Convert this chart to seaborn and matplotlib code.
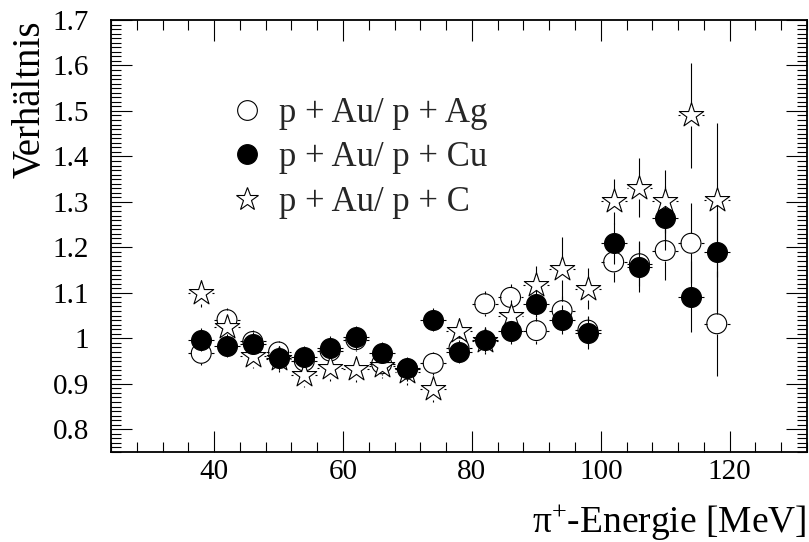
import numpy as np
import pandas as pd
import matplotlib
matplotlib.use("Agg")
import matplotlib.pyplot as plt
import seaborn as sns
from matplotlib.lines import Line2D
from matplotlib.ticker import MultipleLocator

# ---------------- data ----------------
energy = [38, 42, 46, 50, 54, 58, 62, 66, 70, 74, 78,
          82, 86, 90, 94, 98, 102, 106, 110, 114, 118]

ratio_ag = [0.967, 1.041, 0.993, 0.970, 0.950, 0.972, 0.997, 0.944, 0.932, 0.945, 0.979,
            1.076, 1.090, 1.017, 1.061, 1.018, 1.168, 1.164, 1.193, 1.209, 1.032]
err_ag = [0.025, 0.025, 0.025, 0.025, 0.025, 0.025, 0.025, 0.025, 0.025, 0.025, 0.025,
          0.028, 0.030, 0.030, 0.032, 0.032, 0.045, 0.050, 0.065, 0.088, 0.115]

ratio_cu = [0.997, 0.984, 0.988, 0.956, 0.958, 0.979, 1.002, 0.967, 0.935, 1.041, 0.971,
            0.997, 1.015, 1.076, 1.041, 1.011, 1.209, 1.157, 1.265, 1.091, 1.190]
err_cu = [0.025, 0.025, 0.025, 0.025, 0.025, 0.025, 0.025, 0.025, 0.025, 0.025, 0.025,
          0.027, 0.028, 0.030, 0.032, 0.035, 0.045, 0.055, 0.070, 0.078, 0.130]

ratio_c = [1.099, 1.024, 0.962, 0.955, 0.920, 0.935, 0.933, 0.940, 0.925, 0.889, 1.015,
           0.995, 1.050, 1.118, 1.153, 1.109, 1.301, 1.331, 1.301, 1.490, 1.304]
err_c = [0.030, 0.028, 0.028, 0.028, 0.028, 0.028, 0.028, 0.028, 0.028, 0.028, 0.030,
         0.030, 0.035, 0.040, 0.070, 0.045, 0.050, 0.065, 0.070, 0.115, 0.170]

x_halfwidth = 2.0

series_labels = ["p + Au/ p + Ag", "p + Au/ p + Cu", "p + Au/ p + C"]
x_label = r"$\mathrm{\pi}^{+}$-Energie [MeV]"
y_label = "Verhältnis"
x_ticks = [40, 60, 80, 100, 120]
y_ticks = [0.8, 0.9, 1.0, 1.1, 1.2, 1.3, 1.4, 1.5, 1.6, 1.7]
y_ticklabels = ["0.8", "0.9", "1", "1.1", "1.2", "1.3", "1.4", "1.5", "1.6", "1.7"]

# ---------------- style ----------------
sns.set_theme(style="ticks")
plt.rcParams["font.family"] = ["Liberation Serif", "DejaVu Serif"]
plt.rcParams["mathtext.fontset"] = "custom"
plt.rcParams["mathtext.rm"] = "Liberation Serif"
plt.rcParams["mathtext.it"] = "Liberation Serif:italic"

W, H = 809, 542
fig = plt.figure(figsize=(W / 100, H / 100), dpi=100)
fig.patch.set_facecolor("white")
ax_l, ax_r, ax_t, ax_b = 111, 807, 20, 452
ax = fig.add_axes([ax_l / W, (H - ax_b) / H, (ax_r - ax_l) / W, (ax_b - ax_t) / H])
ax.set_facecolor("white")

xlim = (24, 132)
ylim = (0.75, 1.70)
ax.set_xlim(*xlim)
ax.set_ylim(*ylim)

px_per_x = (ax_r - ax_l) / (xlim[1] - xlim[0])
px_per_y = (ax_b - ax_t) / (ylim[1] - ylim[0])

df = pd.DataFrame({"energy": energy, "ag": ratio_ag, "cu": ratio_cu, "c": ratio_c})

def error_bars(y, yerr, r_px, z):
    x = np.asarray(energy, float)
    y = np.asarray(y, float)
    e = np.asarray(yerr, float)
    gy = r_px / px_per_y
    gx = r_px / px_per_x
    m = e > gy
    ax.vlines(x[m], y[m] + gy, y[m] + e[m], color="black", lw=0.8, zorder=z)
    ax.vlines(x[m], y[m] - e[m], y[m] - gy, color="black", lw=0.8, zorder=z)
    if x_halfwidth > gx:
        ax.hlines(y, x - x_halfwidth, x - gx, color="black", lw=0.8, zorder=z)
        ax.hlines(y, x + gx, x + x_halfwidth, color="black", lw=0.8, zorder=z)

r_circle = 10.0
r_star = 11.0
error_bars(ratio_ag, err_ag, r_circle, 2)
error_bars(ratio_c, err_c, r_star, 2)
error_bars(ratio_cu, err_cu, r_circle, 2)

circ_s = 205
star_s = 340
sns.scatterplot(data=df, x="energy", y="ag", marker="o", s=circ_s, facecolor="none",
                edgecolor="black", linewidth=0.8, ax=ax, zorder=3)
sns.scatterplot(data=df, x="energy", y="c", marker="*", s=star_s, facecolor="white",
                edgecolor="black", linewidth=0.8, ax=ax, zorder=4)
sns.scatterplot(data=df, x="energy", y="cu", marker="o", s=circ_s, color="black",
                edgecolor="black", linewidth=0.8, ax=ax, zorder=5)

ax.set_xlabel("")
ax.set_ylabel("")

# ticks
ax.set_xticks(x_ticks)
ax.set_xticklabels([str(t) for t in x_ticks])
ax.xaxis.set_minor_locator(MultipleLocator(4))
ax.set_yticks(y_ticks)
ax.set_yticklabels(y_ticklabels)
ax.yaxis.set_minor_locator(MultipleLocator(0.01))
ax.tick_params(which="both", direction="in", top=True, right=True, color="black",
               width=0.8, labelsize=21, labelcolor="black")
ax.tick_params(which="major", length=15)
ax.tick_params(which="minor", length=7.5)
ax.tick_params(axis="x", which="major", pad=5)
ax.tick_params(axis="y", which="major", pad=16)
for sp in ax.spines.values():
    sp.set_visible(True)
    sp.set_color("black")
    sp.set_linewidth(1.3)

# axis titles
fig.text(12 / W, 1 - 21 / H, y_label, rotation=90, ha="left", va="top",
         fontsize=28, color="black")
fig.text(807 / W, 1 - 532 / H, x_label, ha="right", va="baseline",
         fontsize=27, color="black")

# legend
handles = [
    Line2D([], [], marker="o", ls="none", markersize=14.2, markerfacecolor="none",
           markeredgecolor="black", markeredgewidth=0.8),
    Line2D([], [], marker="o", ls="none", markersize=14.2, markerfacecolor="black",
           markeredgecolor="black", markeredgewidth=0.8),
    Line2D([], [], marker="*", ls="none", markersize=17, markerfacecolor="white",
           markeredgecolor="black", markeredgewidth=0.8),
]
leg = ax.legend(handles, series_labels, loc="upper left",
                bbox_to_anchor=((223 - ax_l) / (ax_r - ax_l), 1 - (97 - ax_t) / (ax_b - ax_t)),
                frameon=False, fontsize=25, handlelength=1.4, handletextpad=0.2,
                labelspacing=0.33, borderpad=0, borderaxespad=0)

fig.savefig("out.png", dpi=100, facecolor="white")
